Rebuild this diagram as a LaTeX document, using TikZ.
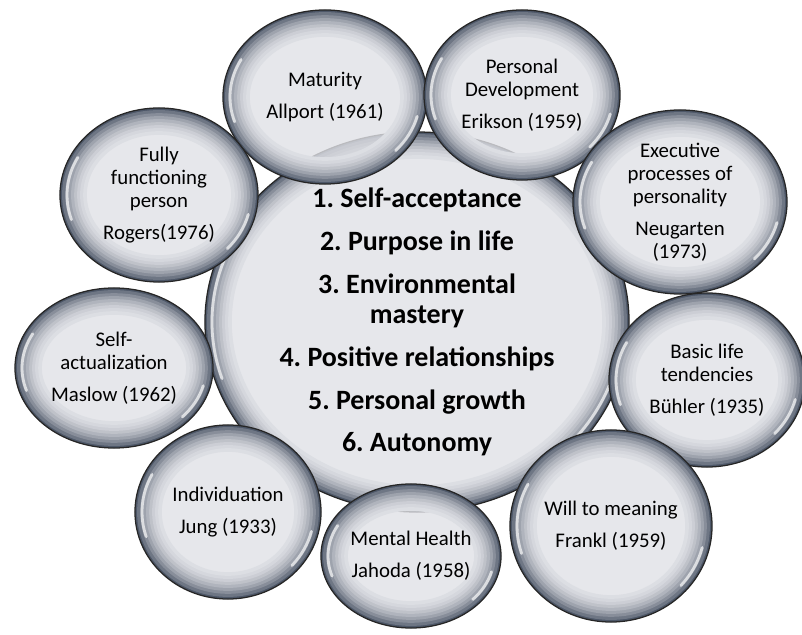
\documentclass[tikz,border=0pt]{standalone}
\usepackage{fontspec}
\setmainfont{Carlito}
\usetikzlibrary{shapes.geometric,calc}
\frenchspacing

\definecolor{bubblein}{RGB}{224,225,230}
\definecolor{bubbleedge}{RGB}{40,52,72}

\tikzset{
  glint/.style={white, line width=2pt, line cap=round, opacity=0.7},
  bubble/.style={ellipse, draw=black!85, line width=0.9pt, inner sep=0pt, align=center,
    fill=bubblein, fill opacity=0.8, text opacity=1,
    font=\fontsize{14.8}{16.5}\selectfont,
    path picture={
      % dark rim, fading inwards
      \foreach \d/\c in {0.7/80, 2.8/62, 5.0/48, 7.1/36, 9.2/26, 11.4/18, 13.5/11, 15.6/6, 17.8/2}
        \draw[bubbleedge!\c!bubblein, line width=2.6pt]
          let \p1=(path picture bounding box.north east),
              \p2=(path picture bounding box.center) in
          (\p2) ellipse [x radius={\x1-\x2-\d pt}, y radius={\y1-\y2-\d pt}];
      % white glints
      \draw[glint] let \p1=(path picture bounding box.north east),
                       \p2=(path picture bounding box.center) in
        ({\x2+(\x1-\x2-5pt)*cos(152)}, {\y2+(\y1-\y2-5pt)*sin(152)})
          arc[start angle=152, end angle=198, x radius={\x1-\x2-5pt}, y radius={\y1-\y2-5pt}];
      \draw[glint] let \p1=(path picture bounding box.north east),
                       \p2=(path picture bounding box.center) in
        ({\x2+(\x1-\x2-5pt)*cos(-42)}, {\y2+(\y1-\y2-5pt)*sin(-42)})
          arc[start angle=-42, end angle=-14, x radius={\x1-\x2-5pt}, y radius={\y1-\y2-5pt}];
    }},
  core/.style={bubble, font=\fontsize{19.9}{21.5}\selectfont\bfseries}
}

\begin{document}
\begin{tikzpicture}[x=0.025cm, y=-0.025cm]
    \useasboundingbox (0,0) rectangle (802,635);

    % centre
    \node[core, minimum width=10.6cm, minimum height=8.6cm] (W) at (417, 322)
        { 1. Self-acceptance\\[9pt] 2. Purpose in life\\[9pt] 3. Environmental\\ mastery\\[9pt]
          4. Positive relationships\\[9pt] 5. Personal growth\\[9pt] 6. Autonomy };

    % theories round it
    \node[bubble, minimum width=5.1cm, minimum height=4.35cm] (M) at (325, 97)
        { Maturity\\[6pt] Allport (1961) };
    \node[bubble, minimum width=4.9cm, minimum height=4.25cm] (E) at (522, 95)
        { Personal\\ Development\\[6pt] Erikson (1959) };
    \node[bubble, minimum width=4.95cm, minimum height=4.35cm] (R) at (159, 195)
        { Fully\\ functioning\\ person\\[6pt] Rogers(1976) };
    \node[bubble, minimum width=5.35cm, minimum height=4.6cm] (N) at (680, 202)
        { Executive\\ processes of\\ personality\\[6pt] Neugarten\\ (1973) };
    \node[bubble, minimum width=4.95cm, minimum height=4.0cm] (S) at (114, 368)
        { Self-\\ actualization\\[6pt] Maslow (1962) };
    \node[bubble, minimum width=4.9cm, minimum height=4.35cm] (B) at (707, 380)
        { Basic life\\ tendencies\\[6pt] Bühler (1935) };
    \node[bubble, minimum width=4.65cm, minimum height=4.35cm] (J) at (228, 512)
        { Individuation\\[6pt] Jung (1933) };
    \node[bubble, minimum width=4.5cm, minimum height=3.6cm] (H) at (411, 556)
        { Mental Health\\[6pt] Jahoda (1958) };
    \node[bubble, minimum width=5.05cm, minimum height=4.8cm] (F) at (611, 526)
        { Will to meaning\\[6pt] Frankl (1959) };

\end{tikzpicture}
\end{document}
